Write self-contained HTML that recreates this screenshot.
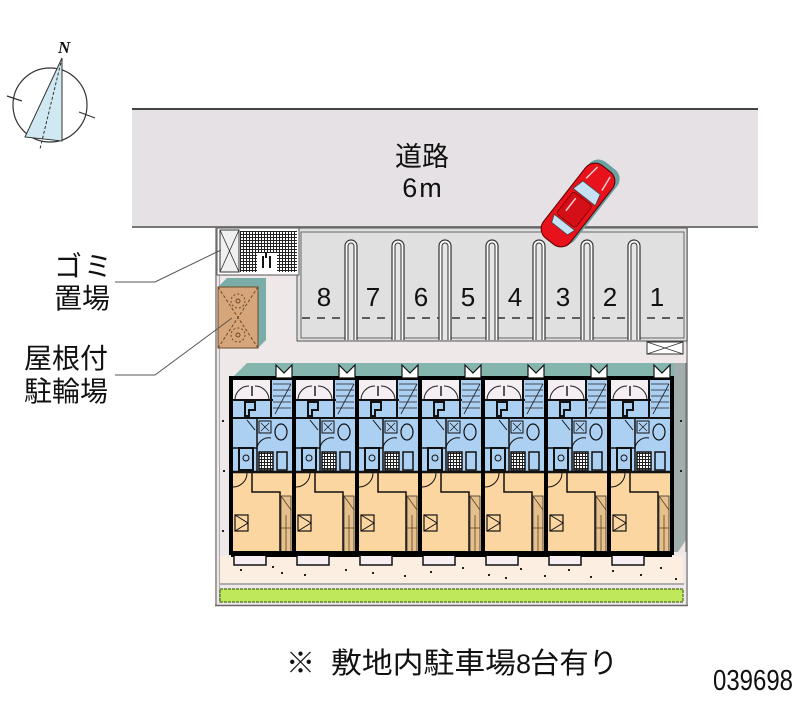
<!DOCTYPE html>
<html><head><meta charset="utf-8">
<style>
html,body{margin:0;padding:0;background:#fff;}
svg{display:block}
text{font-family:"Liberation Sans","Noto Sans CJK JP",sans-serif;fill:#111;}
.j{font-family:"Liberation Sans","Noto Sans CJK JP",sans-serif;}
</style></head><body>
<svg width="800" height="727" viewBox="0 0 800 727" xmlns="http://www.w3.org/2000/svg">
<defs>
<pattern id="grid" width="3" height="3" patternUnits="userSpaceOnUse">
<rect width="3" height="3" fill="#fff"/>
<path d="M0 0.5H3M0.5 0V3" stroke="#222" stroke-width="1"/>
</pattern>
<g id="unit">
<rect x="0" y="378" width="63" height="94" fill="#acd0f2"/>
<rect x="2" y="380" width="38" height="20" fill="#f5eef2"/>
<path d="M4 400 A14 14 0 0 1 18 386" fill="none" stroke="#222" stroke-width="1"/>
<path d="M38 400 A14 14 0 0 0 24 386" fill="none" stroke="#222" stroke-width="1"/>
<line x1="21" y1="386" x2="21" y2="396" stroke="#222" stroke-width="1.5"/>
<path d="M42 384H60M42 390H60M42 396H60M42 402H60M42 408H60M44 414L60 384" stroke="#222" stroke-width="0.8" fill="none"/>
<line x1="0" y1="400" x2="42" y2="400" stroke="#111" stroke-width="2"/>
<line x1="40" y1="378" x2="40" y2="418" stroke="#111" stroke-width="2"/>
<path d="M14 402h10v8h-6v6h-4z" fill="none" stroke="#111" stroke-width="2"/>
<line x1="0" y1="418" x2="63" y2="418" stroke="#111" stroke-width="2"/>
<line x1="26" y1="418" x2="26" y2="472" stroke="#111" stroke-width="1.5"/>
<rect x="28" y="421" width="12" height="12" fill="none" stroke="#111" stroke-width="1"/>
<path d="M30 423l8 8M38 423l-8 8" stroke="#111" stroke-width="0.7"/>
<ellipse cx="50" cy="432" rx="6" ry="8" fill="none" stroke="#111" stroke-width="1.2"/>
<line x1="16" y1="420" x2="24" y2="430" stroke="#111"/>
<path d="M26 448A12 12 0 0 1 40 438" fill="none" stroke="#111"/>
<rect x="28" y="452" width="14" height="18" fill="url(#grid)" stroke="#111" stroke-width="1.5"/>
<rect x="46" y="452" width="10" height="18" fill="#acd0f2" stroke="#111" stroke-width="1.5"/>
<path d="M8 448h14v22h-14z" fill="none" stroke="#111" stroke-width="2"/>
<circle cx="15" cy="458" r="3" fill="none" stroke="#111"/>
<line x1="0" y1="448" x2="26" y2="448" stroke="#111" stroke-width="1.5"/>
<rect x="0" y="472" width="63" height="81" fill="#fcd6a0"/>
<line x1="0" y1="472" x2="63" y2="472" stroke="#111" stroke-width="2.5"/>
<path d="M21 472V492H49V553" fill="none" stroke="#111" stroke-width="1.5"/>
<rect x="50" y="496" width="10" height="57" fill="#e6c08c" stroke="#333" stroke-width="0.8"/>
<path d="M50 496L60 510M55 515V553M50 528H60" stroke="#5a4020" stroke-width="0.8" fill="none"/>
<path d="M2 487A14 14 0 0 0 16 473" fill="none" stroke="#111"/>
<rect x="4" y="515" width="13" height="16" fill="none" stroke="#111" stroke-width="1.2"/>
<path d="M4 515L17 523L4 531" fill="none" stroke="#111"/>
<rect x="0" y="378" width="63" height="175" fill="none" stroke="#000" stroke-width="4"/>
<line x1="0" y1="555" x2="63" y2="555" stroke="#000" stroke-width="4"/>
<path d="M3 556V565H35V556" fill="#f6eef2" stroke="#111" stroke-width="1.5"/>
<path d="M45 365L53 373L61 365V378H45Z" fill="#fff" stroke="#111" stroke-width="1.2"/>
</g>
<g id="stall">
<path d="M-6 340V246A6 6 0 0 1 6 246V340" fill="#fafafa" stroke="#333" stroke-width="1.2"/>
<path d="M-3 340V246A3 3 0 0 1 3 246V340" fill="#e6e6e6" stroke="#333" stroke-width="1"/>
</g>
</defs>

<rect width="800" height="727" fill="#fff"/>

<!-- compass -->
<circle cx="50" cy="105" r="37" fill="none" stroke="#333" stroke-width="1.2"/>
<polygon points="62,58 25,137 62,141" fill="#cfe8f2" stroke="#333" stroke-width="1"/>
<line x1="62" y1="58" x2="40" y2="149" stroke="#333" stroke-width="1" stroke-dasharray="3 2"/>
<path d="M7 96L22 101M79 112L95 118" stroke="#333" stroke-width="1.2"/>
<text x="58" y="53" style="font-family:'Liberation Serif',serif;font-style:italic;font-weight:bold" font-size="17">N</text>

<!-- road -->
<rect x="132" y="108" width="626" height="119" fill="#e6e1e5"/>
<line x1="132" y1="109" x2="758" y2="109" stroke="#444" stroke-width="2"/>
<line x1="132" y1="227" x2="758" y2="227" stroke="#777" stroke-width="2"/>
<text x="422" y="166" font-size="27" text-anchor="middle" class="j">道路</text>
<text x="423" y="197" font-size="27" text-anchor="middle" letter-spacing="2">6m</text>

<!-- site -->
<rect x="215" y="228" width="473" height="378" fill="#efe8e9"/>
<line x1="216" y1="228" x2="216" y2="606" stroke="#888" stroke-width="1.5"/>
<line x1="219.5" y1="275" x2="219.5" y2="603" stroke="#aaa" stroke-width="1"/>
<line x1="687" y1="228" x2="687" y2="606" stroke="#888" stroke-width="1.5"/>
<line x1="215" y1="605.5" x2="688" y2="605.5" stroke="#666" stroke-width="1.5"/>

<!-- parking -->
<rect x="297" y="228" width="390" height="113" fill="#e0e0e0" stroke="#555" stroke-width="1"/>
<rect x="301" y="232" width="383" height="106" fill="none" stroke="#666" stroke-width="1"/>
<line x1="302" y1="318" x2="683" y2="318" stroke="#333" stroke-width="1.6" stroke-dasharray="8 7"/>
<use href="#stall" x="351"/><use href="#stall" x="398"/><use href="#stall" x="445"/><use href="#stall" x="492"/>
<use href="#stall" x="539"/><use href="#stall" x="587"/><use href="#stall" x="634"/>
<g font-size="26" text-anchor="middle">
<text x="324" y="306">8</text><text x="373" y="306">7</text><text x="421" y="306">6</text><text x="468" y="306">5</text>
<text x="515" y="306">4</text><text x="563" y="306">3</text><text x="610" y="306">2</text><text x="657" y="306">1</text>
</g>
<rect x="647" y="342" width="36" height="12" fill="#fff" stroke="#333" stroke-width="1"/>
<path d="M647 342L683 354M683 342L647 354" stroke="#333" stroke-width="0.8"/>

<!-- garbage -->
<rect x="217" y="228" width="82" height="47" fill="#fff" stroke="#555" stroke-width="1"/>
<rect x="220" y="230" width="19" height="42" fill="#f0f0f0" stroke="#333" stroke-width="1"/>
<path d="M220 230L239 272M239 230L220 272" stroke="#333" stroke-width="0.8"/>
<rect x="240" y="231" width="57" height="41" fill="url(#grid)"/>
<rect x="257" y="253" width="20" height="19" fill="#fff"/>
<path d="M263 256v12M270 256v12M266 252v6" stroke="#111" stroke-width="2"/>

<!-- bike shelter -->
<polygon points="218,287 227,278 266,278 266,340 258,348 258,287" fill="#7aaca8"/>
<rect x="218" y="287" width="40" height="61" fill="#d6a67a" stroke="#6b4a2a" stroke-width="1"/>
<path d="M218 287L258 348M258 287L218 348" stroke="#6b4a2a" stroke-width="1" stroke-dasharray="3 2"/>
<circle cx="238" cy="301" r="7" fill="none" stroke="#6b4a2a" stroke-dasharray="2 2"/>
<circle cx="238" cy="335" r="7" fill="none" stroke="#6b4a2a" stroke-dasharray="2 2"/>
<circle cx="238" cy="301" r="2" fill="none" stroke="#6b4a2a"/>
<circle cx="238" cy="335" r="2" fill="none" stroke="#6b4a2a"/>

<!-- leader lines + labels -->
<path d="M115 282H155L221 250" fill="none" stroke="#555" stroke-width="1"/>
<path d="M115 375H155L232 318" fill="none" stroke="#555" stroke-width="1"/>
<g font-size="28" class="j">
<text x="54" y="276">ゴ</text><text x="84" y="276">ミ</text>
<text x="54" y="308">置場</text>
<text x="24" y="368">屋根付</text>
<text x="24" y="401">駐輪場</text>
</g>

<!-- building -->
<polygon points="232,378 247,363 674,363 674,378" fill="#84b6ae"/>
<polygon points="674,363 686,363 686,540 678,552 674,552" fill="#a2adad"/>
<line x1="686" y1="363" x2="686" y2="552" stroke="#666" stroke-width="1"/>
<rect x="220" y="556" width="463" height="27" fill="#fcefe2"/>
<line x1="220" y1="584" x2="684" y2="584" stroke="#999" stroke-width="1.5"/>
<use href="#unit" x="231"/><use href="#unit" x="294"/><use href="#unit" x="357"/><use href="#unit" x="420"/>
<use href="#unit" x="483"/><use href="#unit" x="546"/><use href="#unit" x="609"/>

<!-- dots -->
<g fill="#222">
<rect x="240" y="569" width="2" height="2"/><rect x="272" y="566" width="2" height="2"/><rect x="281" y="572" width="2" height="2"/>
<rect x="304" y="574" width="2" height="2"/><rect x="345" y="569" width="2" height="2"/><rect x="372" y="572" width="2" height="2"/>
<rect x="404" y="575" width="2" height="2"/><rect x="430" y="571" width="2" height="2"/><rect x="462" y="567" width="2" height="2"/>
<rect x="488" y="574" width="2" height="2"/><rect x="505" y="577" width="2" height="2"/><rect x="520" y="568" width="2" height="2"/>
<rect x="544" y="575" width="2" height="2"/><rect x="568" y="569" width="2" height="2"/><rect x="590" y="576" width="2" height="2"/>
<rect x="612" y="570" width="2" height="2"/><rect x="640" y="574" width="2" height="2"/><rect x="660" y="567" width="2" height="2"/>
<rect x="675" y="578" width="2" height="2"/><rect x="222" y="420" width="2" height="2"/><rect x="223" y="470" width="2" height="2"/>
<rect x="222" y="530" width="2" height="2"/><rect x="680" y="420" width="2" height="2"/><rect x="680" y="470" width="2" height="2"/>
</g>

<!-- green strip -->
<rect x="220" y="589" width="463" height="13" fill="#bfe85a" stroke="#4a6a20" stroke-width="1.2" stroke-dasharray="3 1"/>

<!-- car -->
<g transform="translate(582,202) rotate(-52)">
<rect x="-46" y="-18" width="92" height="36" rx="12" fill="#6aa0a0"/>
</g>
<g transform="translate(578,205) rotate(-52)">
<rect x="-46" y="-17" width="92" height="34" rx="12" fill="#e8121c" stroke="#5a0000" stroke-width="1"/>
<path d="M10 -14 L22 -11 L22 11 L10 14 Z" fill="#c4e2f4" stroke="#444" stroke-width="0.8"/>
<path d="M-22 -13 L-30 -10 L-30 10 L-22 13 Z" fill="#c4e2f4" stroke="#444" stroke-width="0.8"/>
<rect x="-20" y="-12" width="28" height="24" rx="3" fill="#d40f18" stroke="#7a0000" stroke-width="0.8"/>
<path d="M26 -10 L42 -8 M26 10 L42 8 M-12 -6 L4 -6" stroke="#fff" stroke-width="1.5" opacity="0.8"/>
</g>

<!-- bottom text -->
<g font-size="29" class="j">
<text x="286" y="673">※</text>
<text x="331" y="673" textLength="185" lengthAdjust="spacingAndGlyphs">敷地内駐車場</text>
<text x="516" y="673" font-size="27">8</text>
<text x="530" y="673" textLength="88" lengthAdjust="spacingAndGlyphs">台有り</text>
</g>
<text x="713" y="690" font-size="29" textLength="80" lengthAdjust="spacingAndGlyphs">039698</text>
</svg>
</body></html>
